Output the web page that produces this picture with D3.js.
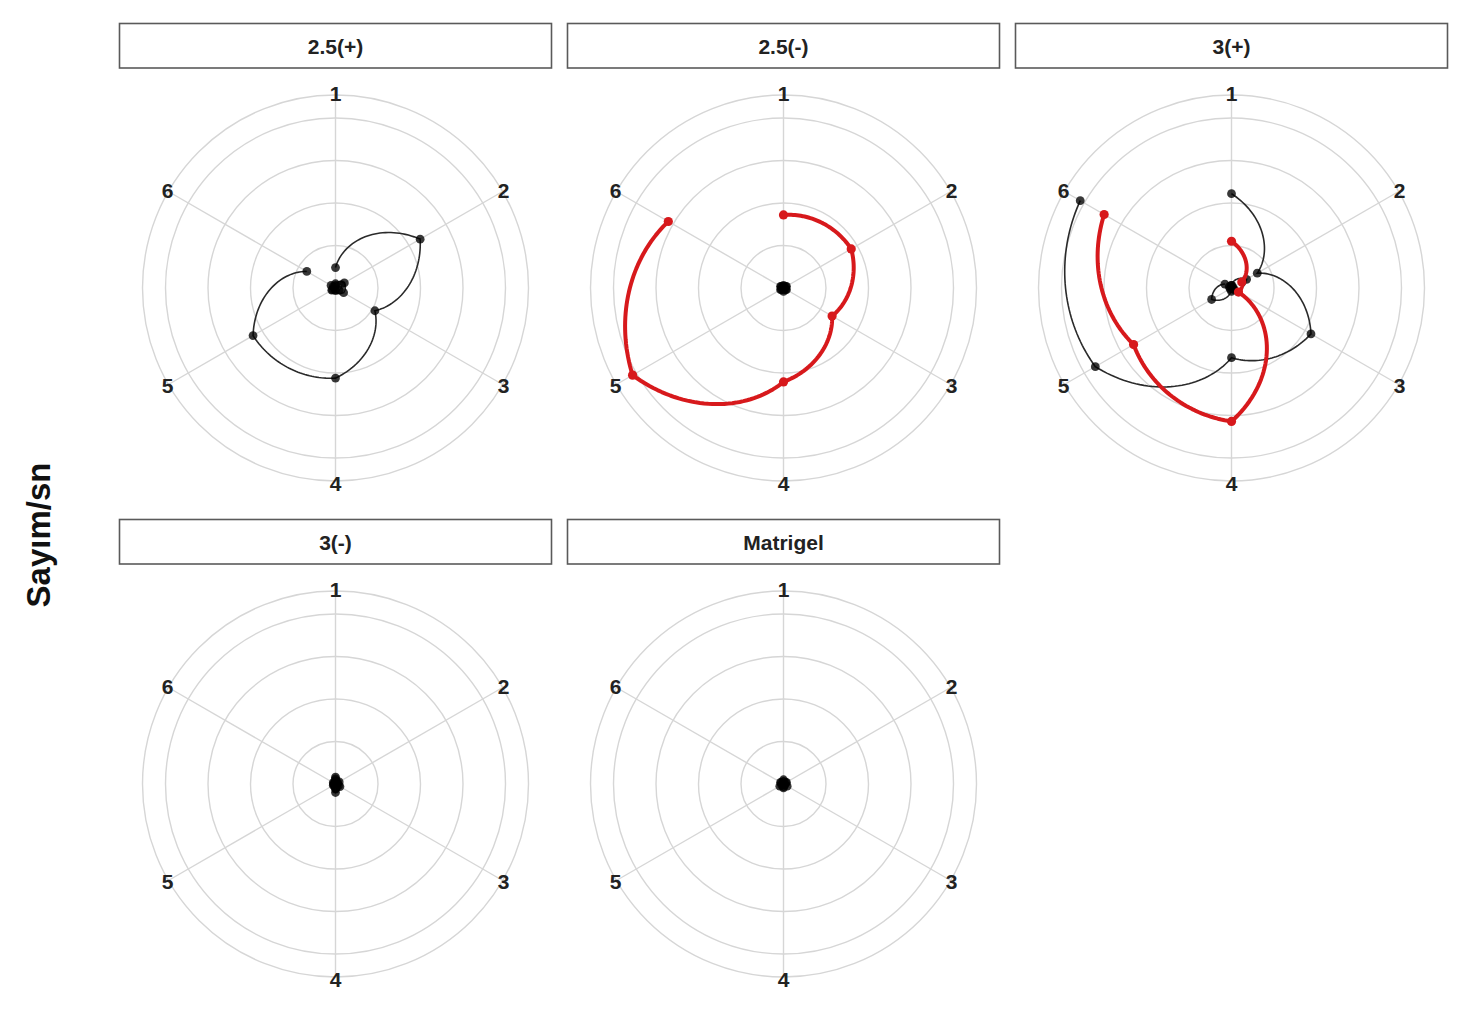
<!DOCTYPE html>
<html>
<head>
<meta charset="utf-8">
<script src="https://cdn.jsdelivr.net/npm/d3@7"></script>
<style>
  body { margin: 0; background: #fff; }
  text { font-family: "Liberation Sans", Arial, sans-serif; }
</style>
</head>
<body>
<script>
// axes of every radar panel, clockwise from the top
const axisLabels = ["1", "2", "3", "4", "5", "6"];
const panelNames = ["2.5(+)", "2.5(-)", "3(+)", "3(-)", "Matrigel"];
const rTicks = [5, 10, 15, 20];

// Sayım/sn per sample, values for axes 1..6
const p25PlusBlack = [
  [2.4, 11.5, 5.35, 10.6, 11.2, 3.9],
  [0.5, 1.2, 1.1, 0.3, 0.5, 0.6],
  [0.3, 0.8, 0.5, 0.2, 0.4, 0.3]
];
const p25PlusRed = [];

const p25MinusBlack = [
  [0.3, 0.4, 0.3, 0.4, 0.3, 0.4],
  [0.2, 0.3, 0.4, 0.2, 0.4, 0.3]
];
const p25MinusRed = [
  [8.6, 9.2, 6.6, 11.05, 20.5, 15.65]
];

const p3PlusBlack = [
  [11.1, 3.5, 10.8, 8.2, 18.5, 20.55],
  [0.3, 2.05, 0.3, 0.0, 2.7, 0.9],
  [0.3, 0.2, 0.3, 0.4, 0.2, 0.3]
];
const p3PlusRed = [
  [5.5, 1.4, 0.95, 15.7, 13.3, 17.3]
];

const p3MinusBlack = [
  [0.8, 0.5, 0.6, 1.0, 0.3, 0.3],
  [0.4, 0.3, 0.4, 0.6, 0.2, 0.2],
  [0.6, 0.2, 0.1, 0.5, 0.2, 0.1]
];
const p3MinusRed = [];

const matrigelBlack = [
  [0.5, 0.4, 0.5, 0.45, 0.5, 0.4],
  [0.3, 0.3, 0.2, 0.3, 0.25, 0.3]
];
const matrigelRed = [];

const blackByPanel = [p25PlusBlack, p25MinusBlack, p3PlusBlack, p3MinusBlack, matrigelBlack];
const redByPanel = [p25PlusRed, p25MinusRed, p3PlusRed, p3MinusRed, matrigelRed];

const RED = "#d7191c";

const svg = d3.select("body").append("svg")
  .attr("width", 1471)
  .attr("height", 1017)
  .style("background-color", "#fff");

const col = d3.scalePoint().domain([0, 1, 2]).range([335.5, 1231.5]);
const row = d3.scalePoint().domain([0, 1]).range([288, 784]);
const r = d3.scaleLinear().domain([0, 20]).range([0, 170]);
const outerR = 193;
const theta = d3.scaleLinear().domain([0, axisLabels.length]).range([0, 2 * Math.PI]);

const radial = d3.lineRadial()
  .angle(d => d[0])
  .radius(d => d[1]);

// coord_polar style path: angle and radius go linearly between samples
function polarPath(values) {
  const pts = [];
  const steps = 40;
  for (let i = 0; i < values.length - 1; i++) {
    for (let k = 0; k < steps; k++) {
      const t = k / steps;
      pts.push([theta(i + t), r(values[i]) + t * (r(values[i + 1]) - r(values[i]))]);
    }
  }
  const last = values.length - 1;
  pts.push([theta(last), r(values[last])]);
  return radial(pts);
}

function px(i, v) { return r(v) * Math.sin(theta(i)); }
function py(i, v) { return -r(v) * Math.cos(theta(i)); }

panelNames.forEach((name, p) => {
  const cx = col(p % 3);
  const cy = row(Math.floor(p / 3));

  // strip
  svg.append("rect")
    .attr("x", cx - 216)
    .attr("y", cy - 264.5)
    .attr("width", 432)
    .attr("height", 44.5)
    .attr("fill", "#fff")
    .attr("stroke", "#5a5a5a")
    .attr("stroke-width", 1.6);

  svg.append("text")
    .attr("x", cx)
    .attr("y", cy - 242)
    .attr("dy", "0.36em")
    .attr("text-anchor", "middle")
    .attr("font-size", "21px")
    .attr("font-weight", "bold")
    .attr("fill", "#222")
    .text(name);

  const g = svg.append("g").attr("transform", `translate(${cx},${cy})`);

  // grid circles
  g.selectAll("circle.grid")
    .data(rTicks.map(t => r(t)).concat([outerR]))
    .join("circle")
    .attr("class", "grid")
    .attr("r", d => d)
    .attr("fill", "none")
    .attr("stroke", "#d6d6d6")
    .attr("stroke-width", 1.4);

  // spokes
  g.selectAll("line.spoke")
    .data(axisLabels)
    .join("line")
    .attr("class", "spoke")
    .attr("x1", 0).attr("y1", 0)
    .attr("x2", (d, i) => outerR * Math.sin(theta(i)))
    .attr("y2", (d, i) => -outerR * Math.cos(theta(i)))
    .attr("stroke", "#d6d6d6")
    .attr("stroke-width", 1.4);

  // axis labels
  g.selectAll("text.axis")
    .data(axisLabels)
    .join("text")
    .attr("class", "axis")
    .attr("x", (d, i) => (outerR + 1) * Math.sin(theta(i)))
    .attr("y", (d, i) => -(outerR + 2) * Math.cos(theta(i)))
    .attr("dy", "0.36em")
    .attr("text-anchor", "middle")
    .attr("font-size", "21px")
    .attr("font-weight", "bold")
    .attr("fill", "#222")
    .text(d => d);

  // black samples
  blackByPanel[p].forEach(vals => {
    g.append("path")
      .attr("d", polarPath(vals))
      .attr("fill", "none")
      .attr("stroke", "#2a2a2a")
      .attr("stroke-width", 1.6);
    g.selectAll(null)
      .data(vals)
      .join("circle")
      .attr("cx", (v, i) => px(i, v))
      .attr("cy", (v, i) => py(i, v))
      .attr("r", 4.4)
      .attr("fill", "#000")
      .attr("fill-opacity", 0.78);
  });

  // red samples
  redByPanel[p].forEach(vals => {
    g.append("path")
      .attr("d", polarPath(vals))
      .attr("fill", "none")
      .attr("stroke", RED)
      .attr("stroke-width", 4)
      .attr("stroke-linejoin", "round");
    g.selectAll(null)
      .data(vals)
      .join("circle")
      .attr("cx", (v, i) => px(i, v))
      .attr("cy", (v, i) => py(i, v))
      .attr("r", 4.6)
      .attr("fill", RED);
  });
});

svg.append("text")
  .attr("transform", "translate(38,535) rotate(-90)")
  .attr("dy", "0.36em")
  .attr("text-anchor", "middle")
  .attr("font-size", "33px")
  .attr("font-weight", "bold")
  .attr("fill", "#111")
  .text("Sayım/sn");
</script>
</body>
</html>
